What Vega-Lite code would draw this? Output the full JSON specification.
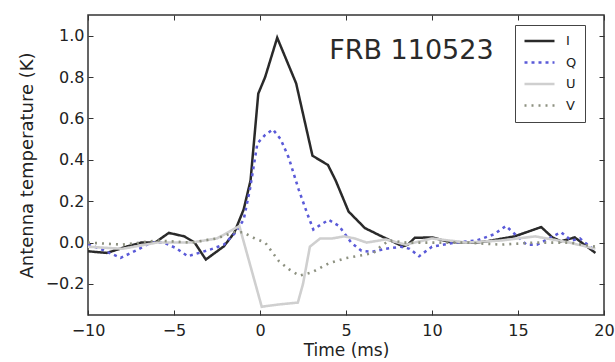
{
  "$schema": "https://vega.github.io/schema/vega-lite/v6.json",
  "width": 516,
  "height": 300,
  "autosize": "none",
  "padding": {"left": 88, "top": 15, "right": 11, "bottom": 47},
  "background": "white",
  "config": {
    "font": "DejaVu Sans",
    "view": {"stroke": "#333", "strokeWidth": 1.5},
    "axis": {
      "grid": false,
      "domain": false,
      "tickColor": "#333",
      "tickSize": -5,
      "tickWidth": 1,
      "labelFontSize": 16,
      "labelColor": "#222",
      "labelFlush": false,
      "labelOverlap": false,
      "titleFontSize": 17,
      "titleFontWeight": "normal",
      "titleColor": "#222"
    },
    "legend": {
      "orient": "none",
      "legendX": 427,
      "legendY": 10,
      "strokeColor": "#444",
      "padding": 8,
      "symbolType": "stroke",
      "symbolSize": 900,
      "clipHeight": 16,
      "rowPadding": 5.5,
      "labelFontSize": 13,
      "labelColor": "#222",
      "labelOffset": 10,
      "fillColor": "white"
    }
  },
  "resolve": {"axis": {"x": "independent", "y": "independent"}},
  "datasets": {
    "pol": [
      {"s": "I", "t": -10, "v": -0.042}, {"s": "I", "t": -8.9, "v": -0.05}, {"s": "I", "t": -7.7, "v": -0.018},
      {"s": "I", "t": -6.9, "v": 0.0}, {"s": "I", "t": -6.1, "v": 0.0}, {"s": "I", "t": -5.3, "v": 0.047},
      {"s": "I", "t": -4.4, "v": 0.03}, {"s": "I", "t": -3.8, "v": 0.0}, {"s": "I", "t": -3.15, "v": -0.082},
      {"s": "I", "t": -2.1, "v": -0.018}, {"s": "I", "t": -1.5, "v": 0.047}, {"s": "I", "t": -0.95, "v": 0.16},
      {"s": "I", "t": -0.55, "v": 0.3}, {"s": "I", "t": -0.1, "v": 0.72}, {"s": "I", "t": 0.3, "v": 0.8},
      {"s": "I", "t": 1.0, "v": 0.99}, {"s": "I", "t": 2.1, "v": 0.77}, {"s": "I", "t": 3.05, "v": 0.42},
      {"s": "I", "t": 3.95, "v": 0.375}, {"s": "I", "t": 4.4, "v": 0.3}, {"s": "I", "t": 5.15, "v": 0.15},
      {"s": "I", "t": 6.1, "v": 0.07}, {"s": "I", "t": 7.2, "v": 0.025}, {"s": "I", "t": 8.3, "v": -0.018},
      {"s": "I", "t": 8.6, "v": -0.01}, {"s": "I", "t": 9.0, "v": 0.023}, {"s": "I", "t": 10.0, "v": 0.025},
      {"s": "I", "t": 11.0, "v": 0.003}, {"s": "I", "t": 12.5, "v": 0.0}, {"s": "I", "t": 13.1, "v": 0.005},
      {"s": "I", "t": 14.8, "v": 0.03}, {"s": "I", "t": 16.35, "v": 0.075}, {"s": "I", "t": 17.0, "v": 0.025},
      {"s": "I", "t": 17.5, "v": 0.006}, {"s": "I", "t": 18.3, "v": 0.025}, {"s": "I", "t": 19.5, "v": -0.05},

      {"s": "Q", "t": -10, "v": -0.01}, {"s": "Q", "t": -9.4, "v": -0.026}, {"s": "Q", "t": -8.1, "v": -0.074},
      {"s": "Q", "t": -7.1, "v": -0.034}, {"s": "Q", "t": -6.35, "v": 0.0}, {"s": "Q", "t": -5.6, "v": 0.0},
      {"s": "Q", "t": -4.9, "v": -0.026}, {"s": "Q", "t": -4.2, "v": -0.066}, {"s": "Q", "t": -2.9, "v": -0.034},
      {"s": "Q", "t": -2.1, "v": -0.01}, {"s": "Q", "t": -1.45, "v": 0.047}, {"s": "Q", "t": -0.95, "v": 0.11},
      {"s": "Q", "t": -0.58, "v": 0.26}, {"s": "Q", "t": -0.15, "v": 0.48}, {"s": "Q", "t": 0.3, "v": 0.52},
      {"s": "Q", "t": 0.75, "v": 0.547}, {"s": "Q", "t": 1.2, "v": 0.5}, {"s": "Q", "t": 1.67, "v": 0.41},
      {"s": "Q", "t": 2.25, "v": 0.256}, {"s": "Q", "t": 2.73, "v": 0.144}, {"s": "Q", "t": 3.1, "v": 0.063},
      {"s": "Q", "t": 3.5, "v": 0.085}, {"s": "Q", "t": 4.0, "v": 0.11}, {"s": "Q", "t": 4.6, "v": 0.08},
      {"s": "Q", "t": 5.3, "v": 0.0}, {"s": "Q", "t": 5.9, "v": -0.04}, {"s": "Q", "t": 6.5, "v": -0.045},
      {"s": "Q", "t": 7.3, "v": -0.03}, {"s": "Q", "t": 8.2, "v": -0.02}, {"s": "Q", "t": 8.7, "v": -0.03},
      {"s": "Q", "t": 9.25, "v": -0.066}, {"s": "Q", "t": 10.0, "v": -0.02}, {"s": "Q", "t": 11.3, "v": 0.0},
      {"s": "Q", "t": 12.6, "v": 0.01}, {"s": "Q", "t": 13.6, "v": 0.04}, {"s": "Q", "t": 14.3, "v": 0.08},
      {"s": "Q", "t": 15.5, "v": -0.01}, {"s": "Q", "t": 16.1, "v": -0.01}, {"s": "Q", "t": 17.5, "v": 0.05},
      {"s": "Q", "t": 18.1, "v": 0.01}, {"s": "Q", "t": 18.6, "v": 0.02}, {"s": "Q", "t": 19.5, "v": -0.04},

      {"s": "U", "t": -10, "v": -0.02}, {"s": "U", "t": -8, "v": -0.03}, {"s": "U", "t": -6, "v": 0.0},
      {"s": "U", "t": -4, "v": 0.0}, {"s": "U", "t": -2.5, "v": 0.02}, {"s": "U", "t": -1.2, "v": 0.08},
      {"s": "U", "t": -0.6, "v": -0.1}, {"s": "U", "t": 0.1, "v": -0.31}, {"s": "U", "t": 1.0, "v": -0.3},
      {"s": "U", "t": 2.2, "v": -0.29}, {"s": "U", "t": 2.5, "v": -0.2}, {"s": "U", "t": 2.9, "v": -0.02},
      {"s": "U", "t": 3.5, "v": 0.02}, {"s": "U", "t": 4.2, "v": 0.02}, {"s": "U", "t": 4.9, "v": 0.03},
      {"s": "U", "t": 5.5, "v": 0.02}, {"s": "U", "t": 6.2, "v": 0.0}, {"s": "U", "t": 7.3, "v": 0.015},
      {"s": "U", "t": 8.5, "v": -0.01}, {"s": "U", "t": 10, "v": 0.02}, {"s": "U", "t": 12, "v": 0.0},
      {"s": "U", "t": 14, "v": 0.01}, {"s": "U", "t": 16, "v": 0.03}, {"s": "U", "t": 18, "v": 0.0},
      {"s": "U", "t": 19.5, "v": -0.03},

      {"s": "V", "t": -10, "v": 0.0}, {"s": "V", "t": -8, "v": -0.01}, {"s": "V", "t": -6, "v": 0.01},
      {"s": "V", "t": -4, "v": 0.0}, {"s": "V", "t": -2.5, "v": 0.02}, {"s": "V", "t": -1.5, "v": 0.05},
      {"s": "V", "t": -1.0, "v": 0.05}, {"s": "V", "t": -0.3, "v": 0.02}, {"s": "V", "t": 0.3, "v": 0.0},
      {"s": "V", "t": 1.1, "v": -0.09}, {"s": "V", "t": 1.7, "v": -0.13}, {"s": "V", "t": 2.3, "v": -0.16},
      {"s": "V", "t": 3.0, "v": -0.145}, {"s": "V", "t": 4.0, "v": -0.1}, {"s": "V", "t": 5.0, "v": -0.075},
      {"s": "V", "t": 6.0, "v": -0.06}, {"s": "V", "t": 6.6, "v": -0.05}, {"s": "V", "t": 7.0, "v": -0.02},
      {"s": "V", "t": 7.5, "v": 0.01}, {"s": "V", "t": 8.5, "v": 0.0}, {"s": "V", "t": 10, "v": 0.0},
      {"s": "V", "t": 12, "v": 0.0}, {"s": "V", "t": 14, "v": -0.01}, {"s": "V", "t": 16, "v": 0.0},
      {"s": "V", "t": 18, "v": 0.0}, {"s": "V", "t": 19.5, "v": -0.02}
    ],
    "label": [{"text": "FRB 110523", "t": 8.8, "v": 0.925}]
  },
  "layer": [
    {
      "data": {"name": "pol"},
      "mark": {"type": "line", "interpolate": "linear"},
      "encoding": {
        "x": {"field": "t", "type": "quantitative",
              "scale": {"domain": [-10, 20], "nice": false, "zero": false},
              "axis": {"orient": "bottom", "values": [-10, -5, 0, 5, 10, 15, 20], "format": "d", "labelPadding": 12, "title": "Time (ms)", "titlePadding": 4}},
        "y": {"field": "v", "type": "quantitative",
              "scale": {"domain": [-0.35, 1.1], "nice": false, "zero": false},
              "axis": {"orient": "left", "values": [-0.2, 0, 0.2, 0.4, 0.6, 0.8, 1.0], "format": ".1f", "labelPadding": 9, "title": "Antenna temperature (K)", "titleFontSize": 18, "titlePadding": 9}},
        "color": {"field": "s", "type": "nominal", "title": null,
                  "scale": {"domain": ["I", "Q", "U", "V"], "range": ["#2a2a2a", "#5a5ad8", "#cfcfcf", "#8d9180"]}},
        "strokeDash": {"field": "s", "type": "nominal", "title": null,
                       "scale": {"domain": ["I", "Q", "U", "V"], "range": [[1, 0], [3, 4], [1, 0], [2, 5]]}},
        "strokeWidth": {"field": "s", "type": "nominal", "title": null,
                        "scale": {"domain": ["I", "Q", "U", "V"], "range": [2.5, 2.6, 2.0, 2.0]}},
        "order": {"field": "t", "type": "quantitative"}
      }
    },
    {
      "data": {"name": "label"},
      "mark": {"type": "text", "fontSize": 27, "color": "#2a2a2a", "align": "center", "baseline": "middle"},
      "encoding": {
        "x": {"field": "t", "type": "quantitative",
              "axis": {"orient": "top", "values": [-10, -5, 0, 5, 10, 15, 20], "labels": false, "title": null}},
        "y": {"field": "v", "type": "quantitative",
              "axis": {"orient": "right", "values": [-0.2, 0, 0.2, 0.4, 0.6, 0.8, 1.0], "labels": false, "title": null}},
        "text": {"field": "text"}
      }
    }
  ]
}
